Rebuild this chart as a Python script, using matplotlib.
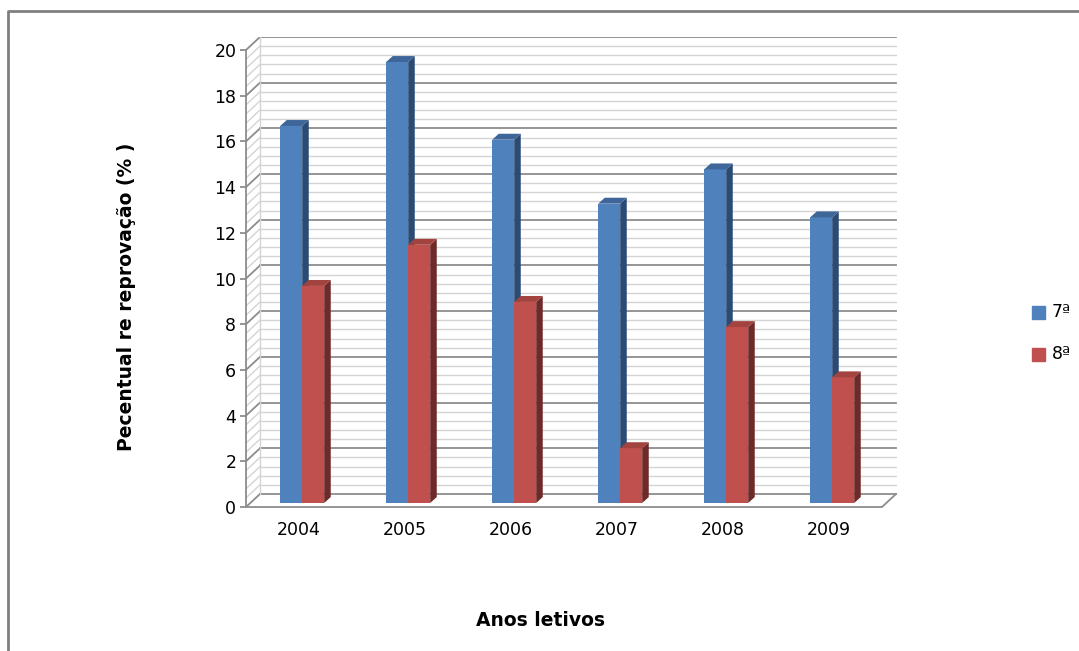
import numpy as np
import matplotlib.pyplot as plt
from matplotlib.patches import Polygon

# data
anos = ['2004', '2005', '2006', '2007', '2008', '2009']
serie7 = [16.5, 19.3, 15.9, 13.1, 14.6, 12.5]
serie8 = [9.5, 11.3, 8.8, 2.4, 7.7, 5.5]
yticks = list(range(0, 21, 2))

plt.rcParams['font.family'] = 'DejaVu Sans'

fig = plt.figure(figsize=(10.79, 6.51), dpi=100)
ax = fig.add_axes([246/1079, 1 - 507/651, 651/1079, 470/651])

# fake 3d depth (data units)
ddx, ddy = 0.132, 0.57      # wall depth
bdx, bdy = 0.062, 0.26      # bar depth
base = 0.175                # bar plane
shift = 0.03
w = 0.2075

x = np.arange(len(anos))
ax.set_xlim(-0.5, -0.5 + 651/106)
ax.set_ylim(0, 470/22.85)

# back wall grid + left wall diagonals
for v in np.arange(0, 20.01, 0.4):
    major = abs(v/2 - round(v/2)) < 1e-6
    c = '#8c8c8c' if major else '#d4d4d4'
    lw = 1.3 if major else 1.0
    ax.plot([-0.5 + ddx, 5.5 + ddx], [v + ddy, v + ddy], color=c, lw=lw, zorder=1)
    ax.plot([-0.5, -0.5 + ddx], [v, v + ddy], color=c, lw=lw, zorder=1)
ax.plot([-0.5 + ddx] * 2, [ddy, 20 + ddy], color='#d4d4d4', lw=1.0, zorder=1)

# floor
ax.plot([-0.5, 5.5, 5.5 + ddx], [0, 0, ddy], color='#8c8c8c', lw=1.3, zorder=1, clip_on=False)


def bars3d(xs, vals, front, side, top):
    ax.bar(xs, vals, width=w, bottom=base, align='edge', color=front, zorder=3)
    for x0, v in zip(xs, vals):
        x1 = x0 + w
        yt = base + v
        ax.add_patch(Polygon([(x1, base), (x1 + bdx, base + bdy), (x1 + bdx, yt + bdy), (x1, yt)],
                             closed=True, fc=side, ec='none', zorder=3))
        ax.add_patch(Polygon([(x0, yt), (x0 + bdx, yt + bdy), (x1 + bdx, yt + bdy), (x1, yt)],
                             closed=True, fc=top, ec='none', zorder=3))


bars3d(x + shift - w, serie7, '#4F81BD', '#2B4B74', '#3E6699')
bars3d(x + shift, serie8, '#C0504D', '#6E2A28', '#A34340')

# axes
for s in ['top', 'right', 'bottom']:
    ax.spines[s].set_visible(False)
ax.spines['left'].set_bounds(0, 20)
ax.spines['left'].set_color('#8c8c8c')
ax.spines['left'].set_linewidth(1.3)
ax.set_yticks(yticks)
ax.tick_params(axis='y', length=4, width=1.3, color='#8c8c8c', labelsize=12.5, pad=3)
ax.set_xticks(x)
ax.set_xticklabels(anos)
ax.tick_params(axis='x', length=0, labelsize=12.5, pad=10)

fig.text(127/1079, 1 - 297/651, 'Pecentual re reprovação (% )', fontsize=13.5, fontweight='bold',
         rotation=90, ha='center', va='center')
fig.text(541/1079, 1 - 620/651, 'Anos letivos', fontsize=13.5, fontweight='bold',
         ha='center', va='center')

# legend
fig.patches.append(plt.Rectangle((1032/1079, 1 - 319/651), 13/1079, 13/651,
                                 transform=fig.transFigure, color='#4F81BD'))
fig.patches.append(plt.Rectangle((1032/1079, 1 - 361/651), 13/1079, 13/651,
                                 transform=fig.transFigure, color='#C0504D'))
fig.text(1052/1079, 1 - 312/651, '7ª', fontsize=12.5, va='center')
fig.text(1052/1079, 1 - 354/651, '8ª', fontsize=12.5, va='center')

# outer frame
fig.add_artist(plt.Line2D([8/1079, 8/1079, 1], [0, 1 - 11/651, 1 - 11/651],
                          transform=fig.transFigure, color='#808080', lw=2))

fig.savefig('out.png', dpi=100)
